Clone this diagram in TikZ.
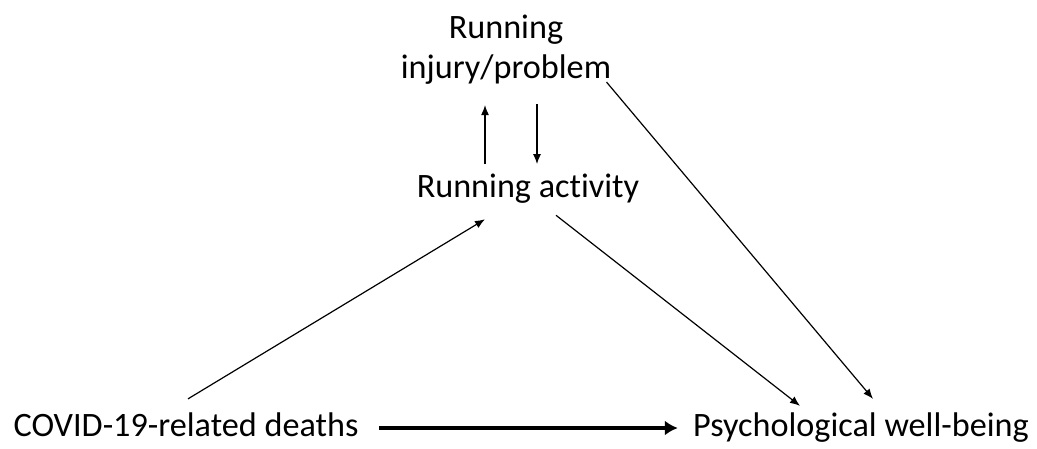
\documentclass[tikz,border=0pt]{standalone}
\usepackage{fontspec}
\setmainfont{Carlito}[Ligatures=NoCommon]
\usepackage{tikz}
\usetikzlibrary{arrows.meta}

\begin{document}
\begin{tikzpicture}[
    x=0.5pt, y=-0.5pt,
    >={Latex[length=5pt,width=4pt]},
    var/.style={
        inner sep=0pt, font=\fontsize{17.1}{20}\selectfont,
        align=center
    },
    edge/.style={->, line width=0.6pt},
    main/.style={-{Latex[length=6.5pt,width=7.5pt]}, line width=2pt},
]
\useasboundingbox (0,0) rectangle (1037,449);

% Variables
\node[var] (inj) at (506,50) {Running\\injury/problem};
\node[var, anchor=base] (act) at (528,197) {Running activity};
\node[var, anchor=base] (covid) at (186,436) {COVID-19-related deaths};
\node[var, anchor=base] (psych) at (861,436) {Psychological well-being};

% Running loop
\draw[edge] ([shift={(-43,-9)}]act.north) -- ([shift={(-21,20)}]inj.south);
\draw[edge] ([shift={(31,19)}]inj.south) -- ([shift={(9,-9)}]act.north);

% Paths to well-being
\draw[edge] ([shift={(2,-13)}]covid.north) -- ([shift={(-43,16)}]act.south);
\draw[edge] ([shift={(28,12)}]act.south) -- ([shift={(-61,-6)}]psych.north);
\draw[edge] ([shift={(-5,-3)}]inj.south east) -- ([shift={(12,-13)}]psych.north);
\draw[main] ([shift={(20,-8)}]covid.base east) -- ([shift={(-15,-8)}]psych.base west);

\end{tikzpicture}
\end{document}
